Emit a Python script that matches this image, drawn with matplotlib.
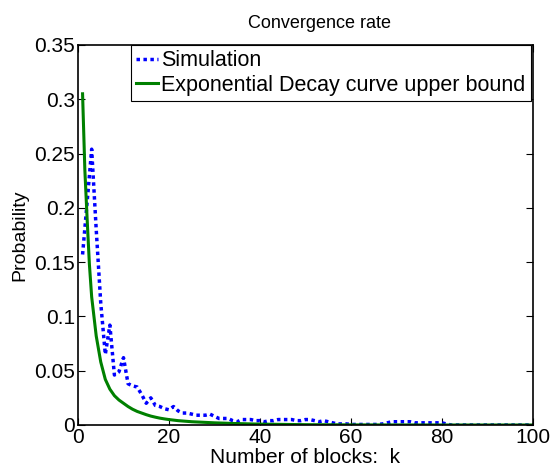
import matplotlib
matplotlib.use("Agg")
import matplotlib.pyplot as plt
from matplotlib.ticker import FormatStrFormatter

plt.rcParams["font.family"] = ["Liberation Sans", "DejaVu Sans"]

# simulated probability per number of blocks k = 1..100
sim_k = list(range(1, 101))
sim_p = [
    0.157, 0.205, 0.254, 0.180, 0.112, 0.065, 0.092, 0.046, 0.049, 0.062,
    0.038, 0.036, 0.035, 0.028, 0.020, 0.025, 0.018, 0.017, 0.015, 0.014,
    0.017, 0.013, 0.011, 0.011, 0.010, 0.009, 0.009, 0.009, 0.010, 0.008,
    0.006, 0.006, 0.006, 0.004, 0.003, 0.005, 0.005, 0.005, 0.004, 0.004,
    0.003, 0.004, 0.004, 0.005, 0.005, 0.005, 0.005, 0.004, 0.004, 0.005,
    0.005, 0.004, 0.003, 0.004, 0.003, 0.002, 0.001, 0.001, 0.001, 0.0005,
    0.0005, 0.0005, 0.0005, 0.0005, 0.0005, 0.0005, 0.001, 0.002, 0.003, 0.003,
    0.003, 0.003, 0.003, 0.002, 0.002, 0.002, 0.002, 0.002, 0.002, 0.002,
    0.001, 0.0, 0.0, 0.0, 0.0, 0.0, 0.0, 0.0, 0.0, 0.0,
    0.0, 0.0, 0.0, 0.0, 0.0, 0.0, 0.0, 0.0, 0.0, 0.0,
]

# upper bound curve
bound_k = [1, 1.5, 2, 2.5, 3, 4, 5, 6, 7, 8, 9, 10, 11, 12, 13, 14, 15, 16,
           17, 18, 19, 20, 22, 25, 30, 35, 40, 50, 60, 80, 100]
bound_p = [0.305, 0.235, 0.19, 0.148, 0.118, 0.082, 0.058, 0.042, 0.033,
           0.027, 0.023, 0.020, 0.017, 0.0145, 0.0125, 0.011, 0.0095, 0.0082,
           0.0072, 0.0063, 0.0056, 0.005, 0.004, 0.003, 0.002, 0.0013, 0.0008,
           0.0003, 0.0001, 0.0, 0.0]

fig = plt.figure(figsize=(5.51, 4.73), dpi=100)
ax = fig.add_axes([0.1416, 0.1015, 0.8254, 0.8035])

ax.plot(sim_k, sim_p, color="blue", ls=(0, (1, 1)), lw=2.5, label="Simulation")
ax.plot(bound_k, bound_p, color=(0, 0.5, 0), lw=2.2,
        label="Exponential Decay curve upper bound")

ax.set_xlim(0, 100)
ax.set_ylim(0, 0.35)
ax.set_xticks(range(0, 101, 20))
ax.set_yticks([0, 0.05, 0.1, 0.15, 0.2, 0.25, 0.3, 0.35])
ax.yaxis.set_major_formatter(FormatStrFormatter("%g"))
ax.tick_params(direction="in", top=True, right=True, labelsize=15, length=5,
               width=0.8, pad=2)
for s in ax.spines.values():
    s.set_linewidth(1.2)

ax.set_title("Convergence rate", fontsize=13, pad=12, x=0.53)
ax.set_xlabel("Number of blocks:  k", fontsize=15, labelpad=1)
ax.set_ylabel("Probability", fontsize=14, labelpad=4)

leg = ax.legend(loc="upper right", fontsize=15.5, handlelength=1.0,
                handletextpad=0.15, borderpad=0.25, labelspacing=0.15,
                borderaxespad=0.0, fancybox=False, framealpha=1,
                edgecolor="black", bbox_to_anchor=(0.995, 1.0))
leg.get_frame().set_linewidth(0.8)

fig.savefig("out.png", dpi=100)
